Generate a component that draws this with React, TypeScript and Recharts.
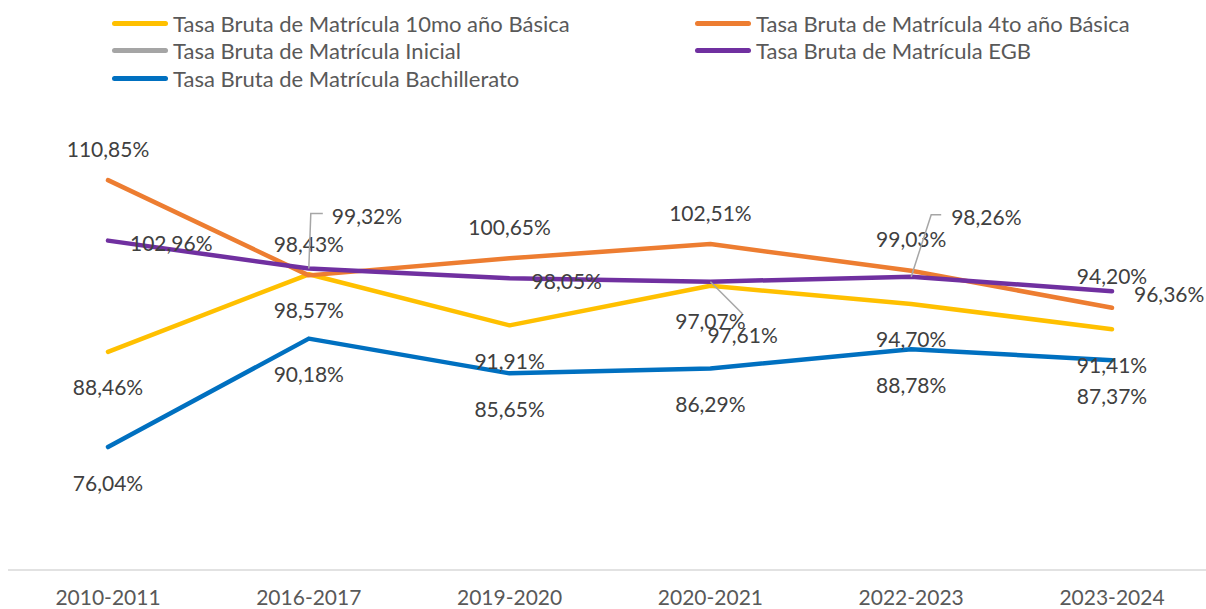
import React from "react";
import { LabelList, Line, LineChart, XAxis, YAxis } from "recharts";

const periods = ["2010-2011", "2016-2017", "2019-2020", "2020-2021", "2022-2023", "2023-2024"];
const decimo = [88.46, 98.57, 91.91, 97.07, 94.7, 91.41];
const cuarto = [110.85, 98.43, 100.65, 102.51, 99.03, 94.2];
const inicial: (number | null)[] = [null, null, null, null, null, null];
const egb = [102.96, 99.32, 98.05, 97.61, 98.26, 96.36];
const bachillerato = [76.04, 90.18, 85.65, 86.29, 88.78, 87.37];

const FONT = "Lato, 'Open Sans', sans-serif";

// series in legend order (row by row, two columns)
const series = [
  { key: "decimo", name: "Tasa Bruta de Matrícula 10mo año Básica", color: "#FFC000", values: decimo, place: "below" },
  { key: "cuarto", name: "Tasa Bruta de Matrícula 4to año Básica", color: "#ED7D31", values: cuarto, place: "above" },
  { key: "inicial", name: "Tasa Bruta de Matrícula Inicial", color: "#A5A5A5", values: inicial, place: "none" },
  { key: "egb", name: "Tasa Bruta de Matrícula EGB", color: "#7030A0", values: egb, place: "right" },
  { key: "bachillerato", name: "Tasa Bruta de Matrícula Bachillerato", color: "#0070C0", values: bachillerato, place: "below" },
];

// label callouts for the EGB series (offsets from the point)
const egbCallouts: Record<number, { dx: number; dy: number; leader: number[][] }> = {
  1: { dx: 23, dy: -53, leader: [[0, 0], [2, -55], [14, -55]] },
  3: { dx: -3, dy: 53, leader: [[0, 0], [32, 32]] },
  4: { dx: 40, dy: -60, leader: [[0, 0], [20, -62], [30, -62]] },
};

const data = periods.map((period, i) => ({
  period,
  decimo: decimo[i],
  cuarto: cuarto[i],
  inicial: inicial[i],
  egb: egb[i],
  bachillerato: bachillerato[i],
}));

const fmt = (v: number) => v.toFixed(2).replace(".", ",") + "%";

function makeLabel(place: string, values: (number | null)[]) {
  return (props: any) => {
    const { x, y, value } = props;
    if (value == null || x == null || y == null) return null;
    let index = props.index;
    if (index == null) index = values.indexOf(Number(value));
    const text = fmt(Number(value));
    const style = { fontFamily: FONT, fontSize: 21, fill: "#404040" };
    if (place === "above" || place === "below") {
      return (
        <text x={x} y={y + (place === "above" ? -32 : 35)} textAnchor="middle" dominantBaseline="central" {...style}>
          {text}
        </text>
      );
    }
    const call = egbCallouts[index];
    if (call) {
      const pts = call.leader.map(([a, b]) => `${x + a},${y + b}`).join(" ");
      return (
        <g>
          <polyline points={pts} fill="none" stroke="#A6A6A6" strokeWidth={1.5} />
          <text x={x + call.dx} y={y + call.dy} textAnchor="start" dominantBaseline="central" {...style}>
            {text}
          </text>
        </g>
      );
    }
    return (
      <text x={x + 22} y={y + 2} textAnchor="start" dominantBaseline="central" {...style}>
        {text}
      </text>
    );
  };
}

function LegendBox() {
  return (
    <div style={{ position: "absolute", left: 0, top: 0, width: 1206, height: 100, fontFamily: FONT, fontSize: 22, color: "#595959" }}>
      {series.map((s, i) => {
        const col = i % 2;
        const row = Math.floor(i / 2);
        return (
          <div
            key={s.key}
            style={{ position: "absolute", left: col === 0 ? 112 : 695, top: 24 + row * 27.5 - 15, height: 28, display: "flex", alignItems: "center", whiteSpace: "nowrap" }}
          >
            <span style={{ display: "inline-block", width: 56, height: 5, borderRadius: 3, background: s.color, marginRight: 5 }} />
            <span>{s.name}</span>
          </div>
        );
      })}
    </div>
  );
}

export default function App() {
  return (
    <div style={{ position: "absolute", left: 0, top: 0, width: 1206, height: 609, background: "#fff" }}>
      <LineChart width={1206} height={609} data={data} margin={{ top: 110, right: 0, bottom: 0, left: 8 }}>
        <XAxis
          dataKey="period"
          interval={0}
          height={39}
          tickLine={false}
          tickMargin={14}
          axisLine={{ stroke: "#D9D9D9", strokeWidth: 1.5 }}
          tick={{ fill: "#595959", fontSize: 21, fontFamily: FONT }}
          padding={{ left: 100, right: 94 }}
        />
        <YAxis hide domain={[60, 120]} />
        {series.map((s) => (
          <Line
            key={s.key}
            dataKey={s.key}
            name={s.name}
            stroke={s.color}
            strokeWidth={4.5}
            strokeLinecap="round"
            strokeLinejoin="round"
            dot={false}
            activeDot={false}
            isAnimationActive={false}
          />
        ))}
        {series
          .filter((s) => s.place !== "none")
          .map((s) => (
            <Line
              key={s.key + "-labels"}
              dataKey={s.key}
              stroke="none"
              dot={false}
              activeDot={false}
              legendType="none"
              isAnimationActive={false}
            >
              <LabelList dataKey={s.key} content={makeLabel(s.place, s.values)} />
            </Line>
          ))}
      </LineChart>
      <LegendBox />
    </div>
  );
}
